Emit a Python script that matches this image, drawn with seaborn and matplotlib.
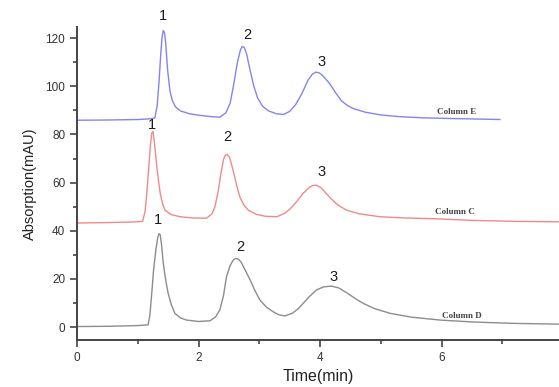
import numpy as np
import pandas as pd
import seaborn as sns
import matplotlib.pyplot as plt

sns.set_style("ticks")
plt.rcParams["font.family"] = ["Liberation Sans", "DejaVu Sans"]

# traces (time in min, absorption in mAU)
time_e = [0.0, 0.5, 1.0, 1.2, 1.28, 1.32, 1.35, 1.38, 1.40, 1.42, 1.44, 1.46, 1.49,
          1.53, 1.57, 1.62, 1.70, 1.85, 2.0, 2.2, 2.35, 2.45, 2.52, 2.58, 2.64, 2.69,
          2.72, 2.75, 2.79, 2.85, 2.91, 2.97, 3.05, 3.15, 3.28, 3.40, 3.50, 3.60, 3.70,
          3.80, 3.87, 3.93, 3.99, 4.05, 4.16, 4.25, 4.35, 4.45, 4.55, 4.75, 5.0, 5.3,
          5.7, 6.2, 6.6, 6.96]
abs_e = [85.9, 86.0, 86.2, 86.5, 86.8, 92, 102, 114, 120.5, 123.2, 122.2, 118, 107,
         98, 94, 91.5, 89.8, 88.6, 88.0, 87.4, 87.2, 89, 93, 101, 110, 115.2,
         116.5, 116.2, 113.5, 106.5, 100, 95.3, 91.8, 89.8, 88.6, 88.3, 89.6, 92.5, 97,
         102.5, 105.0, 105.9, 105.5, 104.3, 101, 97.5, 94, 92, 90.7, 89.2, 88.1, 87.4,
         86.9, 86.6, 86.4, 86.2]

time_c = [0.0, 0.5, 0.9, 1.08, 1.12, 1.15, 1.18, 1.21, 1.23, 1.25, 1.27, 1.31, 1.34,
          1.37, 1.41, 1.45, 1.55, 1.70, 1.9, 2.13, 2.22, 2.27, 2.32, 2.37, 2.41, 2.44,
          2.47, 2.51, 2.57, 2.63, 2.68, 2.75, 2.82, 2.95, 3.1, 3.29, 3.42, 3.52, 3.62,
          3.72, 3.82, 3.88, 3.94, 4.02, 4.16, 4.30, 4.44, 4.65, 4.99, 5.4, 5.86, 6.5,
          7.2, 7.93]
abs_c = [43.2, 43.4, 43.6, 43.9, 48, 56, 66, 76, 80.5, 81.3, 77.5, 67.5, 61,
         55.5, 51, 48.5, 46.7, 45.8, 45.3, 45.2, 47, 50, 56, 64, 69.5, 71.4,
         71.7, 70.5, 65, 58.5, 54, 50.5, 48.5, 46.8, 46.0, 45.8, 47.3, 49.4, 52.3,
         55.5, 58, 58.8, 58.9, 57.8, 53.8, 50.5, 48.5, 47.0, 45.8, 45.3, 45.0, 44.3,
         43.9, 43.7]

time_d = [0.0, 0.5, 1.0, 1.17, 1.20, 1.23, 1.26, 1.30, 1.33, 1.35, 1.37, 1.39, 1.42,
          1.46, 1.50, 1.55, 1.61, 1.70, 1.80, 2.0, 2.19, 2.28, 2.35, 2.41, 2.46, 2.52,
          2.57, 2.61, 2.65, 2.70, 2.75, 2.85, 2.93, 3.01, 3.12, 3.23, 3.32, 3.42, 3.55,
          3.65, 3.72, 3.83, 3.94, 4.06, 4.19, 4.31, 4.44, 4.58, 4.71, 4.9, 5.15, 5.5,
          5.97, 6.5, 7.2, 7.93]
abs_d = [0.2, 0.3, 0.6, 0.9, 5, 14, 23.6, 32.5, 37.3, 38.8, 38.3, 34.5, 26.4,
         19.5, 14, 9.5, 5.7, 3.8, 2.9, 2.3, 2.6, 4.2, 7.1, 13, 20.9, 25.6,
         27.8, 28.5, 28.3, 27.0, 24.5, 19.5, 15, 11.2, 8.2, 6.3, 5.1, 4.6, 5.8,
         7.8, 9.8, 12.8, 15.4, 16.7, 17.0, 16.2, 14.2, 11.8, 9.8, 7.6, 5.7, 4.1,
         2.9, 2.1, 1.5, 1.2]

columns = ["Column E", "Column C", "Column D"]
colors = ["#8484ee", "#f08a8a", "#8c8c8c"]

# peak number labels (x, y, text)
peak_x = [1.42, 2.81, 4.02, 1.24, 2.47, 4.02, 1.33, 2.68, 4.22]
peak_y = [129.0, 121.2, 110.0, 83.8, 78.8, 64.3, 44.4, 33.2, 20.7]
peak_txt = ["1", "2", "3", "1", "2", "3", "1", "2", "3"]

# column name labels
name_x = [6.25, 6.22, 6.34]
name_y = [89.2, 47.7, 4.7]


df = pd.concat([
    pd.DataFrame({"time": t, "absorption": a, "column": c})
    for t, a, c in zip([time_e, time_c, time_d], [abs_e, abs_c, abs_d], columns)
])

fig = plt.figure(figsize=(5.59, 3.87), dpi=100)
ax = fig.add_axes([0.1377, 0.1214, 0.8623, 0.8086])

sns.lineplot(data=df, x="time", y="absorption", hue="column",
    palette=dict(zip(columns, colors)), estimator=None, sort=False,
    linewidth=1.0, legend=False, ax=ax)

for x, y, t in zip(peak_x, peak_y, peak_txt):
    ax.text(x, y, t, ha="center", va="center", fontsize=10.5, color="#1a1a1a",
        clip_on=False)

for x, y, t in zip(name_x, name_y, columns):
    ax.text(x, y, t, ha="center", va="center", fontsize=6.5, color="#444444",
        family="Liberation Serif", fontweight="bold")

ax.set_xlim(0, 7.93)
ax.set_ylim(-5.4, 124.6)
ax.xaxis.set(major_locator=plt.MultipleLocator(2),
    minor_locator=plt.MultipleLocator(1))
ax.yaxis.set(major_locator=plt.MultipleLocator(20),
    minor_locator=plt.MultipleLocator(10))

sns.despine(ax=ax)
for side in ["left", "bottom"]:
    ax.spines[side].set_linewidth(1.4)
    ax.spines[side].set_color("#444444")
ax.tick_params(which="major", length=5, width=1.2, color="#444444",
    labelsize=8.5, labelcolor="#333333")
ax.tick_params(which="minor", length=3, width=1.2, color="#444444")

ax.set_xlabel("Time(min)", fontsize=11.5, color="#222222", labelpad=4)
ax.set_ylabel("Absorption(mAU)", fontsize=10.5, color="#222222", labelpad=6)

plt.savefig("out.png", dpi=100)
plt.close()
